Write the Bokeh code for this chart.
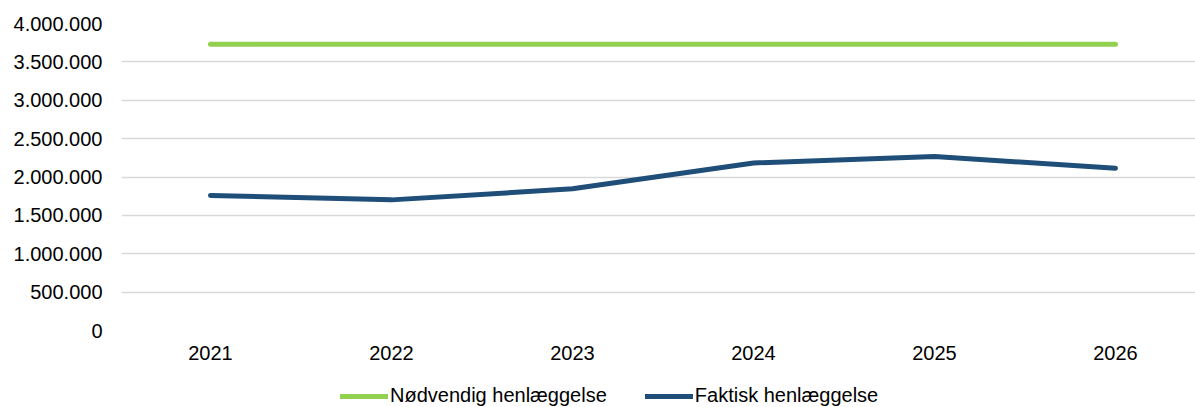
from bokeh.plotting import figure
from bokeh.layouts import column
from bokeh.models import Range1d, FixedTicker, CustomJSTickFormatter, Legend, LegendItem
from bokeh.embed import file_html
from bokeh.resources import INLINE

years = ["2021", "2022", "2023", "2024", "2025", "2026"]
noedvendig = [3730000, 3730000, 3730000, 3730000, 3730000, 3730000]
faktisk = [1760000, 1702000, 1846000, 2183000, 2266000, 2115000]
y_ticks = [0, 500000, 1000000, 1500000, 2000000, 2500000, 3000000, 3500000, 4000000]
labels = ["Nødvendig henlæggelse", "Faktisk henlæggelse"]

xs = list(range(len(years)))
FONT = "Liberation Sans"
GREEN = "#92D050"
BLUE = "#1F4E79"

p = figure(width=1195, height=380, output_backend="svg", toolbar_location=None,
           x_range=Range1d(-0.4917, 5.442), y_range=Range1d(0, 4000000),
           min_border_left=121, min_border_right=0, min_border_top=23, min_border_bottom=50)
p.outline_line_color = None
p.background_fill_color = "white"
p.border_fill_color = "white"

p.yaxis.ticker = FixedTicker(ticks=y_ticks)
p.yaxis.formatter = CustomJSTickFormatter(code="""
return Math.round(tick).toString().replace(/\\B(?=(\\d{3})+(?!\\d))/g, ".");
""")
p.xaxis.ticker = FixedTicker(ticks=xs)
p.xaxis.major_label_overrides = {i: y for i, y in enumerate(years)}
for ax in (p.xaxis[0], p.yaxis[0]):
    ax.axis_line_color = None
    ax.major_tick_line_color = None
    ax.minor_tick_line_color = None
    ax.major_tick_out = 0
    ax.major_tick_in = 0
    ax.major_label_text_font = FONT
    ax.major_label_text_font_size = "20px"
    ax.major_label_text_color = "#000000"
p.yaxis.major_label_standoff = 19
p.xaxis.major_label_standoff = 15

p.xgrid.grid_line_color = None
p.ygrid.ticker = FixedTicker(ticks=y_ticks)
p.ygrid.grid_line_color = "#D9D9D9"
p.ygrid.grid_line_width = 1.5

p.line(xs, noedvendig, line_color=GREEN, line_width=5, line_cap="round", line_join="round")
p.line(xs, faktisk, line_color=BLUE, line_width=5, line_cap="round", line_join="round")

# legend strip (separate figure so the legend is not clipped by the main frame)
lg = figure(width=1195, height=27, output_backend="svg", toolbar_location=None,
            x_range=Range1d(0, 1), y_range=Range1d(0, 1),
            min_border_left=0, min_border_right=0, min_border_top=0, min_border_bottom=0)
lg.axis.visible = False
lg.grid.visible = False
lg.outline_line_color = None
lg.border_fill_color = "white"
lr1 = lg.line(xs, noedvendig, line_color=GREEN, line_width=5, line_cap="round")
lr2 = lg.line(xs, faktisk, line_color=BLUE, line_width=5, line_cap="round")

legend = Legend(items=[LegendItem(label=labels[0], renderers=[lr1]),
                       LegendItem(label=labels[1], renderers=[lr2])],
                orientation="horizontal", location=(219, 0))
legend.label_text_font = FONT
legend.label_text_font_size = "20px"
legend.label_text_color = "#000000"
legend.glyph_width = 48
legend.glyph_height = 20
legend.label_height = 20
legend.label_standoff = 2
legend.spacing = 38
legend.padding = 0
legend.margin = 0
legend.border_line_color = None
legend.background_fill_alpha = 0
lg.add_layout(legend, "center")

page = column(p, lg, spacing=0)
open("out.html", "w").write(file_html(page, INLINE))
